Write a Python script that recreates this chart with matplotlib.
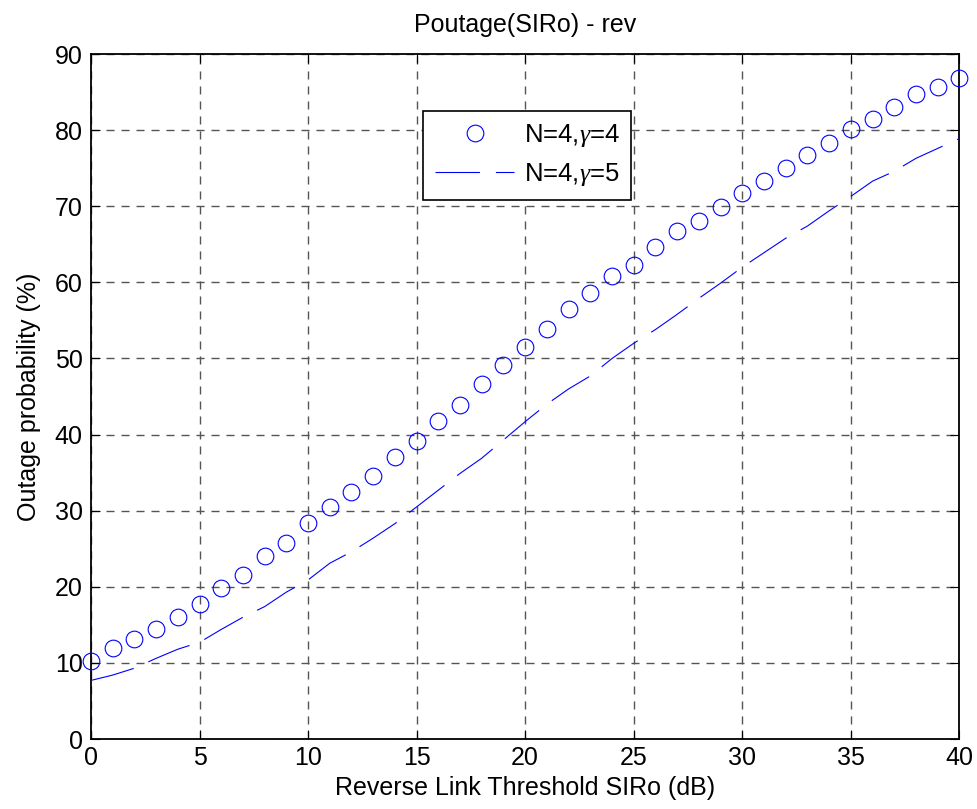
import numpy as np
import matplotlib
matplotlib.use("Agg")
import matplotlib.pyplot as plt

# ====================================

siro_db = np.arange(0, 41)

p_gamma4 = [10.3, 11.9, 13.2, 14.5, 16.0, 17.7, 19.8, 21.6, 24.0, 25.8,
            28.4, 30.5, 32.4, 34.5, 37.1, 39.2, 41.8, 43.9, 46.6, 49.2,
            51.5, 53.9, 56.5, 58.6, 60.9, 62.3, 64.7, 66.8, 68.1, 69.9,
            71.8, 73.3, 75.0, 76.8, 78.3, 80.1, 81.5, 83.1, 84.7, 85.7,
            86.8]

p_gamma5 = [7.7, 8.4, 9.3, 10.6, 11.8, 12.7, 14.4, 16.0, 17.4, 19.3,
            20.9, 23.1, 24.6, 26.4, 28.3, 30.5, 32.7, 34.9, 36.9, 39.3,
            41.7, 44.0, 46.0, 47.7, 50.0, 52.0, 53.8, 55.8, 57.9, 59.9,
            62.0, 63.9, 65.8, 67.4, 69.4, 71.3, 73.3, 74.6, 76.3, 77.6,
            78.9]

labels = ["N=4,$\\gamma$=4", "N=4,$\\gamma$=5"]

# ====================================

plt.rcParams["font.family"] = ["Liberation Sans", "DejaVu Sans"]
plt.rcParams["mathtext.fontset"] = "custom"
plt.rcParams["mathtext.it"] = "Liberation Serif:italic"
plt.rcParams["lines.scale_dashes"] = False

fig = plt.figure(figsize=(9.78, 8.09), dpi=100)
ax = fig.add_axes([0.093, 0.0865, 0.888, 0.8467])

ax.plot(siro_db, p_gamma4, linestyle="none", marker="o",
        markersize=12, markerfacecolor="none", markeredgecolor="b",
        markeredgewidth=0.8, label=labels[0], clip_on=False, zorder=3)

line, = ax.plot(siro_db, p_gamma5, color="b", linewidth=0.8,
                label=labels[1], zorder=3)
line.set_dashes([32, 11.5])

ax.set_xlim(0, 40)
ax.set_ylim(0, 90)
ax.set_xticks(np.arange(0, 41, 5))
ax.set_yticks(np.arange(0, 91, 10))

ax.grid(True, color="#555555", linewidth=1.0, dashes=(5.8, 5.0))
ax.tick_params(direction="in", length=6.3, width=0.8, top=True, right=True,
               labelsize=18)
ax.tick_params(axis="x", pad=5)
ax.tick_params(axis="y", pad=6)
for s in ax.spines.values():
    s.set_linewidth(1.3)

ax.set_title("Poutage(SIRo) - rev", fontsize=18, pad=16)
ax.set_xlabel("Reverse Link Threshold SIRo (dB)", fontsize=18, labelpad=4)
ax.set_ylabel("Outage probability (%)", fontsize=18, labelpad=10)

leg = ax.legend(loc="upper left", bbox_to_anchor=(0.3825, 0.917),
                fontsize=18.5, fancybox=False, framealpha=1,
                edgecolor="black", handlelength=3.1, borderpad=0.45,
                labelspacing=0.45, handletextpad=0.36, borderaxespad=0)
leg.get_frame().set_linewidth(1.2)

fig.savefig("out.png", dpi=100)
